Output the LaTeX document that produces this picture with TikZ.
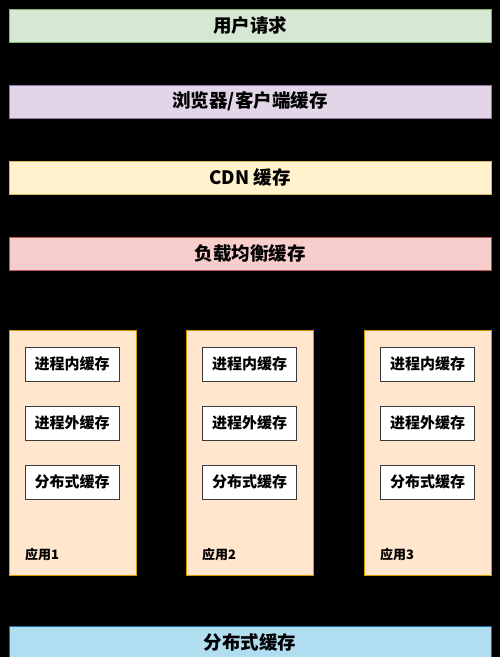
\documentclass[tikz,border=0pt]{standalone}
\usepackage{fontspec}
\newfontfamily\cjk{Noto Sans CJK SC}
\usepackage{xcolor}
\definecolor{usergreen}{HTML}{D5E8D4}\definecolor{userline}{HTML}{82B366}
\definecolor{browserlilac}{HTML}{E1D5E7}\definecolor{browserline}{HTML}{9673A6}
\definecolor{cdnyellow}{HTML}{FFF2CC}\definecolor{cdnline}{HTML}{D6B656}
\definecolor{lbred}{HTML}{F8CECC}\definecolor{lbline}{HTML}{B85450}
\definecolor{apporange}{HTML}{FFE6CC}\definecolor{appline}{HTML}{D79B00}
\definecolor{distblue}{HTML}{B1DDF0}\definecolor{distline}{HTML}{10739E}
\definecolor{cacheline}{HTML}{36393D}

\begin{document}
\begin{tikzpicture}[x=1pt,y=-1pt,
    layer/.style={draw,line width=1pt,minimum width=482pt,minimum height=33pt,inner sep=0pt,
        font=\cjk\bfseries\fontsize{18.5}{20}\selectfont},
    appbox/.style={draw=appline,fill=apporange,line width=1pt,minimum width=127pt,minimum height=245pt},
    cachebox/.style={draw=cacheline,fill=white,line width=1pt,minimum width=94pt,minimum height=34pt,inner sep=0pt,
        font=\cjk\bfseries\fontsize{15}{16}\selectfont},
    applabel/.style={anchor=west,inner sep=0pt,font=\cjk\bfseries\fontsize{13}{14}\selectfont}]
    \fill[black] (0,0) rectangle (500,657);
    \useasboundingbox (0,0) rectangle (500,657);
    % request path
    \node[layer,fill=usergreen,draw=userline] (user) at (250,25.5) {用户请求};
    \node[layer,fill=browserlilac,draw=browserline] (browser) at (250,101.5) {浏览器/客户端缓存};
    \node[layer,fill=cdnyellow,draw=cdnline] (cdn) at (250,177.5) {CDN 缓存};
    \node[layer,fill=lbred,draw=lbline] (lb) at (250,254) {负载均衡缓存};
    % applications
    \node[appbox] (app1) at (72.5,452.5) {};
    \node[appbox] (app2) at (249.5,452.5) {};
    \node[appbox] (app3) at (427.5,452.5) {};
    \node[cachebox] (inproc1) at (72,364) {进程内缓存};
    \node[cachebox] (outproc1) at (72,423) {进程外缓存};
    \node[cachebox] (dist1) at (72,482) {分布式缓存};
    \node[cachebox] (inproc2) at (249.5,364) {进程内缓存};
    \node[cachebox] (outproc2) at (249.5,423) {进程外缓存};
    \node[cachebox] (dist2) at (249.5,482) {分布式缓存};
    \node[cachebox] (inproc3) at (427.5,364) {进程内缓存};
    \node[cachebox] (outproc3) at (427.5,423) {进程外缓存};
    \node[cachebox] (dist3) at (427.5,482) {分布式缓存};
    \node[applabel] (name1) at (25,555) {应用1};
    \node[applabel] (name2) at (202,555) {应用2};
    \node[applabel] (name3) at (380,555) {应用3};
    % shared cache
    \node[layer,fill=distblue,draw=distline] (dist) at (250,642.5) {分布式缓存};
\end{tikzpicture}
\end{document}
